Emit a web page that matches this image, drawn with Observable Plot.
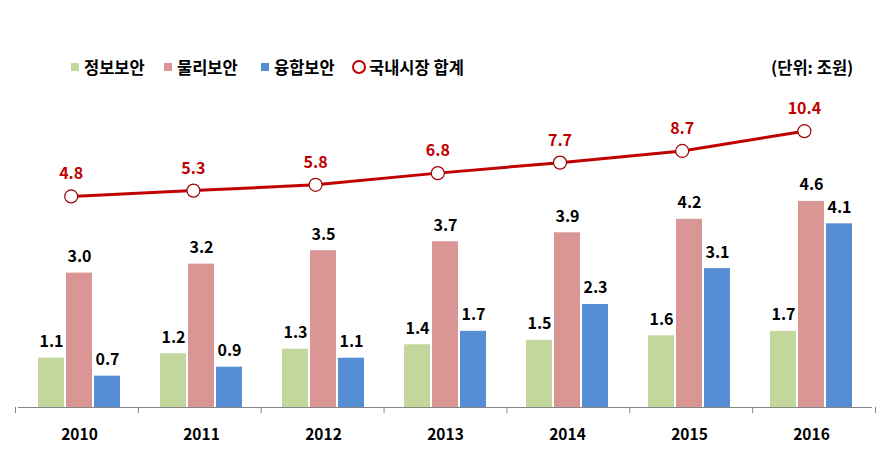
<!DOCTYPE html>
<html><head><meta charset="utf-8">
<script src="https://cdn.jsdelivr.net/npm/d3@7"></script>
<script src="https://cdn.jsdelivr.net/npm/@observablehq/plot@0.6"></script>
<style>
body{margin:0;background:#fff;font-family:"Noto Sans CJK KR","Noto Sans",sans-serif;}
#wrap{position:relative;width:891px;height:456px;}
#legend{position:relative;height:85px;font-weight:bold;font-size:16.5px;color:#000;}
.lg{position:absolute;top:55px;display:flex;align-items:center;white-space:nowrap;}
.sq{width:8px;height:8px;margin-right:5px;}
.ci{width:10px;height:10px;border:2.5px solid #c00000;border-radius:50%;margin-right:3px;background:#fff;}
#plots{position:relative;width:891px;height:371px;}
#plots svg{position:absolute;left:0;top:0;}
</style></head>
<body><div id="wrap"><div id="legend"></div><div id="plots"></div></div>
<script>
const years = ["2010","2011","2012","2013","2014","2015","2016"];
const series = ["정보보안","물리보안","융합보안"];
const info = [1.1,1.2,1.3,1.4,1.5,1.6,1.7];
const phys = [3.0,3.2,3.5,3.7,3.9,4.2,4.6];
const conv = [0.7,0.9,1.1,1.7,2.3,3.1,4.1];
const total = [4.8,5.3,5.8,6.8,7.7,8.7,10.4];
const totalName = "국내시장 합계";
const unitLabel = "(단위: 조원)";
const colors = ["#c3d69b","#d99694","#558ed5"];
const lineColor = "#c00000";

const bars = [];
years.forEach((y,i)=>{
  [info,phys,conv].forEach((arr,j)=>bars.push({year:y, series:series[j], value:arr[i]}));
});
const line = years.map((y,i)=>({year:+y, total:total[i]}));
const bounds = years.map(y=>+y-0.5).concat([+years[years.length-1]+0.5]);

// legend
const lg = document.getElementById("legend");
const legendX = [71,164,261,352];
series.forEach((s,i)=>{
  const d=document.createElement("div");d.className="lg";d.style.left=legendX[i]+"px";
  d.innerHTML=`<span class="sq" style="background:${colors[i]}"></span><span>${s}</span>`;
  lg.appendChild(d);
});
{
  const d=document.createElement("div");d.className="lg";d.style.left=legendX[3]+"px";
  d.innerHTML=`<span class="ci"></span><span>${totalName}</span>`;lg.appendChild(d);
  const u=document.createElement("div");u.className="lg";u.style.left="771px";
  u.textContent=unitLabel;lg.appendChild(u);
}

const W=891,H=371,ML=15,MR=16,MB=49;
const font='"Noto Sans CJK KR","Noto Sans",sans-serif';

const main = Plot.plot({
  width:W,height:H,marginLeft:ML,marginRight:MR,marginTop:98,marginBottom:MB,
  style:{fontFamily:font,background:"transparent",overflow:"visible"},
  fx:{domain:years,padding:0,axis:null,label:null},
  x:{domain:series,paddingInner:0.07,paddingOuter:0.655,axis:null},
  y:{domain:[0,5],axis:null},
  color:{domain:series,range:colors},
  marks:[
    Plot.barY(bars,{fx:"year",x:"series",y:"value",fill:"series"}),
    Plot.text(bars,{fx:"year",x:"series",y:"value",text:d=>d.value.toFixed(1),lineAnchor:"bottom",dy:-11,fontSize:16,fontWeight:"bold",fill:"#000"}),
    Plot.ruleY([0],{stroke:"#868686",strokeWidth:1}),
    Plot.axisFx({anchor:"bottom",tickSize:0,tickPadding:21,fontSize:15.5,fontWeight:"bold",fill:"#000",label:null})
  ]
});

const ticks = Plot.plot({
  width:W,height:H,marginLeft:ML,marginRight:MR,marginTop:20,marginBottom:MB,
  style:{fontFamily:font,background:"transparent",overflow:"visible"},
  x:{domain:[bounds[0],bounds[bounds.length-1]],axis:null},
  y:{domain:[0,1],axis:null},
  marks:[
    Plot.axisX({ticks:bounds,tickSize:6,tickFormat:()=>"",stroke:"#868686",anchor:"bottom",label:null})
  ]
});

// secondary (line) layer, positioned like a secondary axis
const over = Plot.plot({
  width:W,height:H,marginLeft:9.6,marginRight:26,marginTop:20,marginBottom:MB,
  style:{fontFamily:font,background:"transparent",overflow:"visible"},
  x:{domain:[bounds[0],bounds[bounds.length-1]],axis:null},
  y:{domain:[-13.3,12.6],axis:null},
  marks:[
    Plot.line(line,{x:"year",y:"total",stroke:lineColor,strokeWidth:3}),
    Plot.dot(line,{x:"year",y:"total",r:6.5,fill:"#fff",stroke:"#a00000",strokeWidth:1.2}),
    Plot.text(line,{x:"year",y:"total",text:d=>d.total.toFixed(1),lineAnchor:"bottom",dy:-17,fontSize:16,fontWeight:"bold",fill:lineColor})
  ]
});
const p=document.getElementById("plots");
p.appendChild(main);p.appendChild(ticks);p.appendChild(over);
</script></body></html>
